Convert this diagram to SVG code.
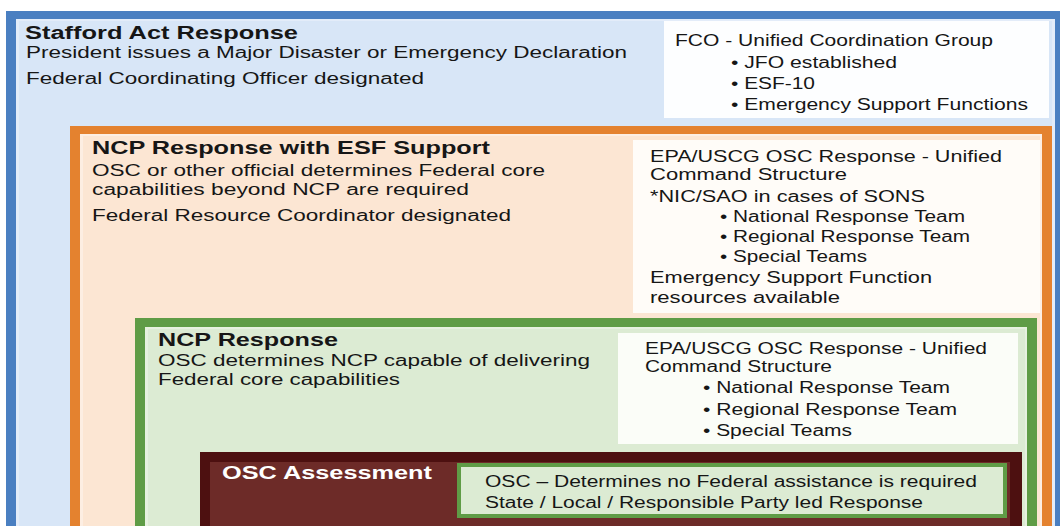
<svg xmlns="http://www.w3.org/2000/svg" width="1060" height="526" viewBox="0 0 1060 526">
  <style>
    text { font-family: "Liberation Sans", Arial, sans-serif; fill: #161616; }
    .h { font-size: 18px; font-weight: bold; }
    .t { font-size: 16px; }
    .w { fill: #ffffff; }
  </style>
  <rect x="0" y="0" width="1060" height="526" fill="#ffffff"/>

  <!-- Stafford Act Response (outer tier) -->
  <g id="stafford">
    <rect x="6" y="11" width="1060" height="520" fill="#4a7fc1"/>
    <rect x="16" y="19" width="1039" height="510" fill="#e3ecf9"/>
    <rect x="19" y="21" width="1033" height="508" fill="#d8e6f7"/>
    <text class="h" x="25" y="39" textLength="273" lengthAdjust="spacingAndGlyphs">Stafford Act Response</text>
    <text class="t" x="26" y="57.5" textLength="601" lengthAdjust="spacingAndGlyphs">President issues a Major Disaster or Emergency Declaration</text>
    <text class="t" x="26" y="84" textLength="398" lengthAdjust="spacingAndGlyphs">Federal Coordinating Officer designated</text>
  </g>
  <g id="fco">
    <rect x="664" y="21" width="385" height="97" fill="#fdfeff"/>
    <text class="t" x="675" y="46" textLength="318" lengthAdjust="spacingAndGlyphs">FCO - Unified Coordination Group</text>
    <text class="t" x="731" y="68" textLength="166" lengthAdjust="spacingAndGlyphs">• JFO established</text>
    <text class="t" x="731" y="89" textLength="84" lengthAdjust="spacingAndGlyphs">• ESF-10</text>
    <text class="t" x="731" y="110" textLength="297" lengthAdjust="spacingAndGlyphs">• Emergency Support Functions</text>
  </g>

  <!-- NCP Response with ESF Support -->
  <g id="ncp-esf">
    <rect x="70" y="126" width="982" height="405" fill="#e4822f"/>
    <rect x="80" y="134" width="962" height="395" fill="#fdeee2"/>
    <rect x="83" y="136" width="957" height="393" fill="#fce6d3"/>
    <text class="h" x="92" y="154" textLength="398" lengthAdjust="spacingAndGlyphs">NCP Response with ESF Support</text>
    <text class="t" x="92" y="176" textLength="453" lengthAdjust="spacingAndGlyphs">OSC or other official determines Federal core</text>
    <text class="t" x="92" y="195" textLength="377" lengthAdjust="spacingAndGlyphs">capabilities beyond NCP are required</text>
    <text class="t" x="92" y="221" textLength="419" lengthAdjust="spacingAndGlyphs">Federal Resource Coordinator designated</text>
  </g>
  <g id="esf-command">
    <rect x="633" y="140" width="407" height="173" fill="#fffcf8"/>
    <text class="t" x="650" y="162" textLength="352" lengthAdjust="spacingAndGlyphs">EPA/USCG OSC Response - Unified</text>
    <text class="t" x="650" y="180" textLength="197" lengthAdjust="spacingAndGlyphs">Command Structure</text>
    <text class="t" x="650" y="202" textLength="275" lengthAdjust="spacingAndGlyphs">*NIC/SAO in cases of SONS</text>
    <text class="t" x="720" y="222" textLength="245" lengthAdjust="spacingAndGlyphs">• National Response Team</text>
    <text class="t" x="720" y="242" textLength="250" lengthAdjust="spacingAndGlyphs">• Regional Response Team</text>
    <text class="t" x="720" y="262" textLength="147" lengthAdjust="spacingAndGlyphs">• Special Teams</text>
    <text class="t" x="650" y="283" textLength="282" lengthAdjust="spacingAndGlyphs">Emergency Support Function</text>
    <text class="t" x="650" y="303" textLength="190" lengthAdjust="spacingAndGlyphs">resources available</text>
  </g>

  <!-- NCP Response -->
  <g id="ncp">
    <rect x="135" y="318" width="902" height="213" fill="#5f9c46"/>
    <rect x="145" y="327" width="882" height="204" fill="#e6f1df"/>
    <rect x="148" y="329" width="877" height="202" fill="#dcebd3"/>
    <text class="h" x="158" y="346" textLength="180" lengthAdjust="spacingAndGlyphs">NCP Response</text>
    <text class="t" x="158" y="366" textLength="432" lengthAdjust="spacingAndGlyphs">OSC determines NCP capable of delivering</text>
    <text class="t" x="158" y="385" textLength="242" lengthAdjust="spacingAndGlyphs">Federal core capabilities</text>
  </g>
  <g id="ncp-command">
    <rect x="618" y="333" width="400" height="111" fill="#fbfdf8"/>
    <text class="t" x="645" y="354" textLength="342" lengthAdjust="spacingAndGlyphs">EPA/USCG OSC Response - Unified</text>
    <text class="t" x="645" y="372" textLength="187" lengthAdjust="spacingAndGlyphs">Command Structure</text>
    <text class="t" x="703" y="393" textLength="247" lengthAdjust="spacingAndGlyphs">• National Response Team</text>
    <text class="t" x="703" y="415" textLength="254" lengthAdjust="spacingAndGlyphs">• Regional Response Team</text>
    <text class="t" x="703" y="436" textLength="149" lengthAdjust="spacingAndGlyphs">• Special Teams</text>
  </g>

  <!-- OSC Assessment -->
  <g id="osc">
    <rect x="200" y="452" width="822" height="80" fill="#4d1010"/>
    <rect x="210" y="462" width="800" height="70" fill="#6d2b28"/>
    <text class="h w" x="222" y="479" textLength="210" lengthAdjust="spacingAndGlyphs">OSC Assessment</text>
  </g>
  <g id="state-local">
    <rect x="459" y="465" width="546" height="51" fill="#dcebd3" stroke="#5f9c46" stroke-width="4"/>
    <text class="t" x="485" y="487" textLength="492" lengthAdjust="spacingAndGlyphs">OSC – Determines no Federal assistance is required</text>
    <text class="t" x="485" y="508" textLength="438" lengthAdjust="spacingAndGlyphs">State / Local / Responsible Party led Response</text>
  </g>
</svg>
